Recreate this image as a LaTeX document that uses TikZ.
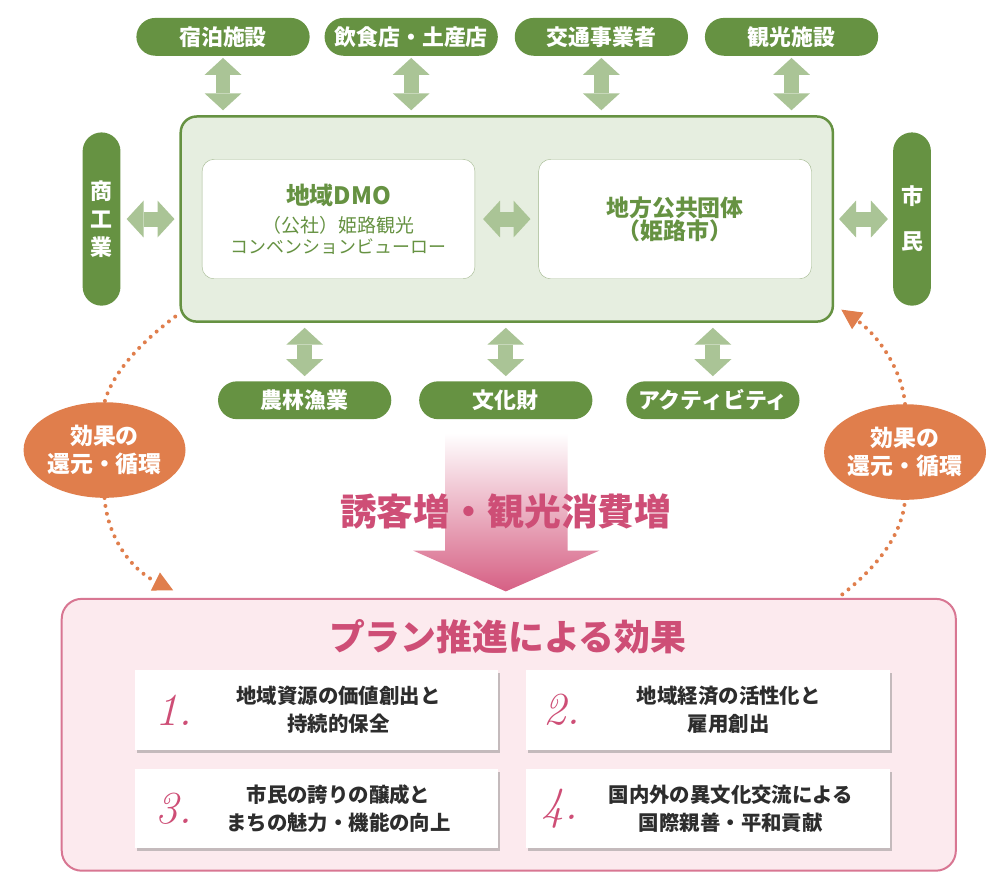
\documentclass[tikz,border=0pt]{standalone}
\usepackage{fontspec}
\newfontfamily\jp{Noto Sans CJK JP}
\usetikzlibrary{calc,shapes,arrows.meta,shadows}
\definecolor{leaf}{RGB}{102,146,66}
\definecolor{leaflight}{RGB}{170,196,150}
\definecolor{leafpale}{RGB}{230,238,224}
\definecolor{leafline}{RGB}{160,182,140}
\definecolor{carrot}{RGB}{224,126,76}
\definecolor{rose}{RGB}{206,78,118}
\definecolor{rosepale}{RGB}{252,234,238}
\definecolor{roseline}{RGB}{216,118,146}
\definecolor{roseshade}{RGB}{214,96,132}
\definecolor{ink}{RGB}{45,45,45}

\begin{document}
\begin{tikzpicture}[x=1pt,y=-1pt,
  pill/.style={fill=leaf,text=white,rounded corners=19pt,minimum width=174pt,minimum height=38pt,inner sep=0pt,font=\jp\bfseries\fontsize{22}{24}\selectfont},
  vpill/.style={fill=leaf,text=white,rounded corners=19pt,minimum width=38pt,minimum height=174pt,inner sep=0pt,align=center},
  bond/.style={leaflight,line width=15pt,{Triangle[width=37pt,length=17pt,line width=0pt]}-{Triangle[width=37pt,length=17pt,line width=0pt]}},
  inbox/.style={draw=leafline,fill=white,rounded corners=12pt,minimum width=274pt,minimum height=120pt,align=center,text=leaf},
  backflow/.style={carrot,line width=4pt,line cap=round,dash pattern=on 0pt off 8pt},
  ring/.style={ellipse,fill=carrot,text=white,minimum width=158pt,minimum height=96pt,inner sep=0pt,align=center,font=\jp\bfseries\fontsize{23}{28}\selectfont},
  effect/.style={fill=white,drop shadow={shadow xshift=2pt,shadow yshift=-3pt,opacity=0.45},minimum width=365pt,minimum height=80pt,inner sep=0pt},
  num/.style={text=rose,inner sep=0pt,font=\fontsize{46}{46}\selectfont\itshape},
  goal/.style={text=ink,inner sep=0pt,align=center,font=\jp\bfseries\fontsize{20.5}{28}\selectfont}]
\fill[white] (0,0) rectangle (986,877);

\node[pill] (lodging) at (224,37) {宿泊施設};
\node[pill] (food) at (413,37) {飲食店・土産店};
\node[pill] (transport) at (604,37) {交通事業者};
\node[pill] (sights) at (795,37) {観光施設};

\node[draw=leaf,line width=2.5pt,fill=leafpale,rounded corners=16pt,minimum width=655pt,minimum height=206pt] (core) at (509,220) {};
\node[inbox,font=\jp\fontsize{18}{21}\selectfont] (dmo) at (340,220) {{\bfseries\fontsize{24}{28}\selectfont 地域DMO}\\[7pt]{\fontsize{19}{21}\selectfont （公社）姫路観光}\\コンベンションビューロー};
\node[inbox,font=\jp\bfseries\fontsize{23}{23}\selectfont] (city) at (678,220) {地方公共団体\\（姫路市）};

\node[vpill,font=\jp\bfseries\fontsize{22}{28}\selectfont] (trade) at (102,220) {商\\工\\業};
\node[vpill,font=\jp\bfseries\fontsize{22}{45}\selectfont] (citizens) at (916,220) {市\\民};

\node[pill] (farm) at (306,402) {農林漁業};
\node[pill] (heritage) at (508,402) {文化財};
\node[pill] (activity) at (716,402) {アクティビティ};

\foreach \p in {lodging,food,transport,sights}
  \draw[bond,shorten <=2pt,shorten >=5pt] (\p.south) -- (\p.south |- core.north);
\foreach \p in {farm,heritage,activity}
  \draw[bond,shorten <=5pt,shorten >=5pt] (\p.north |- core.south) -- (\p.north);
\draw[bond,shorten <=6pt,shorten >=5pt] (trade.east) -- (core.west);
\draw[bond,shorten <=8pt,shorten >=8pt] (dmo.east) -- (city.west);
\draw[bond,shorten <=5pt,shorten >=5pt] (core.east) -- (citizens.west);

\shade[top color=white,bottom color=roseshade] (447,435) -- (570,435) -- (570,553) -- (602,553) -- (508,594) -- (415,553) -- (447,553) -- cycle;
\node[text=rose,font=\jp\bfseries\fontsize{37}{40}\selectfont] (boost) at (508,514) {誘客増・観光消費増};

\node[draw=roseline,line width=2pt,fill=rosepale,rounded corners=20pt,minimum width=898pt,minimum height=273pt] (plan) at (511,738) {};
\node[text=rose,font=\jp\bfseries\fontsize{36}{40}\selectfont] (plantitle) at (510,640) {プラン推進による効果};

\begin{scope}[shift={(318,713)}]
\node[effect] (e1) at (0,0) {};
\node[num] (n1) at (-143,0) {1.};
\node[goal] (t1) at (22,0) {地域資源の価値創出と\\持続的保全};
\end{scope}
\begin{scope}[shift={(711,713)}]
\node[effect] (e2) at (0,0) {};
\node[num] (n2) at (-147,0) {2.};
\node[goal] (t2) at (21,0) {地域経済の活性化と\\雇用創出};
\end{scope}
\begin{scope}[shift={(318,812)}]
\node[effect] (e3) at (0,0) {};
\node[num] (n3) at (-143,0) {3.};
\node[goal] (t3) at (22,0) {市民の誇りの醸成と\\まちの魅力・機能の向上};
\end{scope}
\begin{scope}[shift={(711,812)}]
\node[effect] (e4) at (0,0) {};
\node[num] (n4) at (-149,0) {4.};
\node[goal] (t4) at (23,0) {国内外の異文化交流による\\国際親善・平和貢献};
\end{scope}

\node[ring] (backL) at (105,452) {効果の\\還元・循環};
\node[ring] (backR) at (909,454) {効果の\\還元・循環};
\coordinate (fromL) at (176,318);
\coordinate (toL) at (174,593);
\coordinate (fromR) at (846,597);
\coordinate (toR) at (845,311);
\draw[backflow] (fromL) .. controls (140,345) and (113,375) .. (backL.north);
\draw[backflow,-{Triangle[length=20pt,width=20pt,line width=1pt]}] (backL.south) .. controls (108,540) and (132,572) .. (toL);
\draw[backflow] (fromR) .. controls (880,570) and (906,538) .. (backR.south);
\draw[backflow,-{Triangle[length=20pt,width=20pt,line width=1pt]}] (backR.north) .. controls (906,370) and (880,335) .. (toR);
\end{tikzpicture}
\end{document}
